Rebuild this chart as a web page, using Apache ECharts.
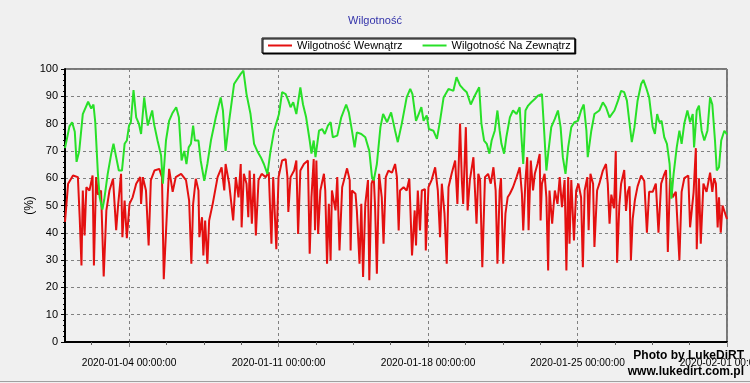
<!DOCTYPE html>
<html>
<head>
<meta charset="utf-8">
<script src="https://cdn.jsdelivr.net/npm/echarts@6/dist/echarts.min.js"></script>
<style>
html,body{margin:0;padding:0;background:#f0f0f0;}
#chart{width:750px;height:383px;}
</style>
</head>
<body>
<div id="chart"></div>
<script>
// hours since 2020-01-01 00:00
const outdoorHours = [0,5,8,11,13,16,20,26,29.5,32,34,37,39,42,44,48,52,54.5,57.5,60.5,64,67,69.5,72,74,77,80,83,85.5,89,93,98,100,104,108,110,113.5,117,121,125,128,131,134,136.5,139,141.5,144,146,150,152.5,156.5,160,164,169.5,175,177.5,180.5,184.5,190,197.5,200.5,204,208.5,212.5,216,220,223.5,227.5,231,235,240.5,244,248,251,253.5,256.5,260,264.5,267.5,271,275,277,279.5,281.5,285.5,289,292,295.5,298.5,301,306,310.5,316,319,322.5,325.5,328,333,337.5,342,345,347,350.5,354.5,357.5,362,366.5,371,374,378.5,384,388,390.5,394.5,397.5,400.5,403,406.5,409,414,418,421.5,425.5,431,436.5,440,444,447.5,451.5,456,460.5,465.5,468,471,474,477,479.5,483,486,488.5,490.5,493.5,496,500,503.5,507.5,511,513,515,517.5,520.5,524,528,531.5,536,538.5,541,543,546.5,550.5,554,557,559.5,562.5,565.5,569,572.5,576.5,580,583,586,587.5,591.5,595,600.5,604.5,608,612,617.5,621.5,625,628.5,631.5,634.5,637,640,643.5,647.5,650,653,656.5,660.5,663,665.5,668,670.5,673.5,676.5,679.5,681.5,684,687.5,690.5,693,696,699.5,702.5,705.5,707,710,712.5,715.5,718.5,722,725,727.5,730.5,732.5,735,737.5,741,744];
const outdoorValues = [71,79,80.5,77,66,70,83.5,88,85.5,87,80.5,61.6,53,48.5,52,61.6,69,72.6,67.7,62.8,62.8,72.6,73.8,79.3,80.5,92.3,82.3,80,76.2,89.6,79.3,84.8,80,73.8,68.3,58,73.8,81,84,86,82.3,66.5,70,65.2,71.3,72.6,79.3,73.8,73.8,66.5,59,65.2,73.8,82.3,89.6,84.8,70,81,94.5,98.2,99.4,90.8,83.5,72.6,70,67.7,65.2,61.6,70,77.4,83.5,91.5,90.8,88.4,86,87.8,83.5,93.3,87,82.3,73.8,69,73.8,67.7,77.4,78,76.2,79.3,80.5,75,75.6,82.3,87,84.1,77.4,71.3,76.8,76.2,75,70,60.4,59.2,65.2,78.7,83.5,80.5,84.1,77.4,73.2,80,89.6,92.7,90.8,81,83.5,86,81,83,78,77.4,74.4,81,89.6,92.7,92,97,94,92.7,91.5,87,90.2,93.3,80,73.8,72.6,69,73.8,77.4,84.8,77.4,72.6,69,75,82.3,84.8,83.5,86,75,65.2,84.8,86.6,87.8,89,90.2,90.8,77.4,62.8,69,78.7,81.7,84.8,78.7,67.7,61.6,71.3,78.7,80.5,81,84.8,87,77.4,67.7,77.4,83.5,84.8,87.8,86,82.3,84.8,88.4,92,91.5,88.4,80,73.2,78.7,88.4,94.5,96,93.3,89.6,78.7,76.2,83.5,80.5,81,75,72.6,65.2,52.5,61.6,71.3,77.4,72.6,80,84.8,80.5,83.5,71.3,84.8,86.6,77.4,73.8,77.4,89.6,87,73.8,62.8,64,73.8,77.4,76];

const indoorHours = [0,3.5,9,14.5,16.5,18.5,20,22,24,27.5,31,32.5,35,37,40.5,43.5,46.5,50,54,57.5,59.5,63,64.5,67,69.5,72.5,76,80,84.5,85.5,87.5,91,94,96.5,100.5,106,109,111,115.5,117,121,124.5,130.5,136,139.5,142,144,147,150,151,154,155.5,157.5,160,162,166,171.5,176,179,180.5,184.5,189,192,195,197.5,198.5,201,204,206,207.5,210,212.5,214.5,217.5,221,225.5,229,232,234,237.5,240,244,248,250,251,253.5,257.5,260,262,264.5,268.5,273,275,277,279.5,281,282.5,284.5,287,291,292.5,294.5,296.5,298.5,300,304,306,308.5,311.5,317,320,321,322.5,326.5,328,331,333,335,337.5,340.5,342,344.5,347,348.5,350.5,353,356,358,360.5,363.5,367.5,371,373,375,376.5,380.5,384,387,390,393,394.5,396.5,399,401,404.5,405.5,408.5,412,416,419,421.5,423.5,426.5,429,431,434.5,438.5,441,444,446,447.5,450.5,452.5,455,459,462.5,464.5,466.5,469,472,475.5,478.5,481.5,484,486,488.5,490,492.5,495,497.5,500,503.5,507.5,511,513.5,515,517.5,519.5,521,523.5,526,528,531,533.5,534.5,536,539,541,543,544.5,547.5,550.5,553.5,556,558.5,561.5,563.5,565.5,567,569,572,574.5,577,580,582,584,587,588.5,590.5,593.5,595,598,600.5,604.5,608,610,612,614,617,619,620.5,623,625,628.5,630.5,632.5,634.5,636,638,640.5,643.5,647.5,651,654,656.5,660.5,664,667,670,673,675.5,677.5,680,683,686.5,690.5,693,696,700.5,702.5,706.5,709,710,712.5,714.5,717.5,721,725,727.5,729.5,731.5,733.5,735,737,739,741,744];
const indoorValues = [44,58,61,60.4,45.7,28,55.5,39,56.7,55.5,61,28,60.4,54,55.5,24,48.2,55.5,59.8,41,49.4,61.6,38.4,51.8,38,50.6,53,58,60.4,50.6,60.4,55.5,35.4,59.3,62.8,63.4,60.4,23,54,63.4,55,60.4,61.6,59.3,51.8,28.7,50.6,59.8,55.5,38.4,45.7,31.7,44.5,28.7,44.5,50.6,60.4,64,55.5,65.2,58,44.5,60.4,53,65.2,42,61.6,58,45.7,62.8,43.3,61.6,39,59.3,61.6,60.4,62.2,36,60.4,34,60.4,66.5,67,60.4,47.6,60.4,62.8,66.5,39.6,62.8,65.2,66.5,32.3,53,67,40.9,66.5,39.6,55.5,61.6,55.5,28.7,50.6,30,55.5,48.2,60.4,33.5,56.7,63.6,59.3,33.5,55.5,54.3,48.2,28.7,50.6,23.8,50.6,59.3,22.6,58,60.4,49.4,25,61.6,53,36,60.4,62.8,62,65.2,60.4,40.9,55.5,56.7,55.5,59.8,31.7,48.2,35.4,55.5,40.9,55.5,56,33.5,56.7,59.3,64,55.5,38.4,58,47,28.7,56.7,61.6,66.5,50.6,80,59.3,50.6,78.7,48.2,59.3,67.7,43.3,61.6,59.3,27.4,60.4,61.6,58,64,55.5,28.7,55.5,60,28.7,47,53,54.3,56.7,60.4,64,54.3,40.9,59.3,67.7,40.9,66.5,55.5,61.6,65.2,68.9,44.5,58,61.6,53,26.2,55.5,43.3,55.5,50.6,60.4,49.4,59.3,26.2,60.4,36,59.3,37.2,55.5,58,53,27.4,55.5,60.4,40.9,61.6,58,34.8,55.5,58,62.8,65.2,58,43.3,54,49,70,29,50,58,63,48,55,57,30,45,52,57,61,59,40,55,55,58,40,58,61,63,33,60,53,55,30,55,60,61,42,55,71,34,60,36,58,55,62,55,60,58,42,53,40,50,48,45];

const majorTicks = [72, 240, 408, 576, 744];
const minorTicks = [30, 114, 156, 198, 282, 324, 366, 450, 492, 534, 618, 660, 702];
const yTicksInterval = 10;

const FONT = '"Liberation Sans", Arial, sans-serif';
function pad(n){return (n<10?'0':'')+n;}
function fmtHour(h){
  const d = new Date(Date.UTC(2020,0,1) + h*3600000);
  return d.getUTCFullYear()+'-'+pad(d.getUTCMonth()+1)+'-'+pad(d.getUTCDate())+' '+
    pad(d.getUTCHours())+':'+pad(d.getUTCMinutes())+':'+pad(d.getUTCSeconds());
}
function zip(a,b){return a.map((v,i)=>[v,b[i]]);}

const chart = echarts.init(document.getElementById('chart'), null, {renderer:'canvas'});
chart.setOption({
  animation:false,
  backgroundColor:'#f0f0f0',
  title:{
    text:'Wilgotność', left:'center', top:15, padding:0,
    textStyle:{fontSize:11, fontWeight:'normal', color:'#3333aa', fontFamily:FONT}
  },
  legend:{
    left:262, top:38, padding:[2,4,2,6], itemGap:20, itemWidth:24, itemHeight:2,
    icon:'rect', backgroundColor:'#ffffff', borderColor:'#000', borderWidth:1,
    shadowColor:'#000', shadowOffsetX:1, shadowOffsetY:1, shadowBlur:0,
    textStyle:{fontSize:11, color:'#000', fontFamily:FONT},
    data:['Wilgotność Wewnątrz','Wilgotność Na Zewnątrz']
  },
  grid:{
    left:65, right:23, top:69, bottom:41, containLabel:false, outerBoundsMode:'none',
    show:true, borderColor:'#000', borderWidth:1, backgroundColor:'#f0f0f0'
  },
  xAxis:[{
    type:'value', min:0, max:744,
    axisLine:{show:true, onZero:false, lineStyle:{color:'#000', width:2}},
    axisTick:{show:true, length:5, customValues:majorTicks, lineStyle:{color:'#808080'}},
    axisLabel:{customValues:majorTicks, formatter:fmtHour, fontSize:10.2, color:'#000', margin:16, fontFamily:FONT},
    splitLine:{show:true, lineStyle:{color:'#808080', type:[3,3], width:1}}
  },{
    type:'value', min:0, max:744, position:'bottom',
    axisLine:{show:false},
    axisTick:{show:true, length:3, customValues:minorTicks, lineStyle:{color:'#606060'}},
    axisLabel:{show:false, customValues:minorTicks},
    splitLine:{show:false}
  }],
  yAxis:{
    type:'value', min:0, max:100, interval:yTicksInterval,
    name:'(%)', nameLocation:'middle', nameRotate:90, nameGap:29, nameMoveOverlap:false,
    nameTextStyle:{fontSize:12, color:'#000', fontFamily:FONT},
    axisLine:{show:true, lineStyle:{color:'#000', width:2}},
    axisTick:{show:true, length:4, lineStyle:{color:'#000'}},
    minorTick:{show:true, splitNumber:5, length:2, lineStyle:{color:'#000'}},
    axisLabel:{fontSize:11, color:'#000', margin:7, fontFamily:FONT},
    splitLine:{show:true, lineStyle:{color:'#808080', type:[3,3], width:1}}
  },
  series:[{
    name:'Wilgotność Wewnątrz', type:'line', showSymbol:false, symbol:'none',
    data:zip(indoorHours, indoorValues),
    itemStyle:{color:'#e41010'}, lineStyle:{color:'#e41010', width:2}
  },{
    name:'Wilgotność Na Zewnątrz', type:'line', showSymbol:false, symbol:'none',
    data:zip(outdoorHours, outdoorValues),
    itemStyle:{color:'#28e028'}, lineStyle:{color:'#28e028', width:2}
  }],
  graphic:[
    {type:'text', right:6, top:350, z:100, style:{text:'Photo by LukeDiRT', font:'bold 12px '+FONT, fill:'#000'}},
    {type:'text', right:6, top:366, z:100, style:{text:'www.lukedirt.com.pl', font:'bold 12px '+FONT, fill:'#000'}},
    {type:'rect', left:0, top:381, z:100, shape:{width:750, height:1}, style:{fill:'#a0a0a0'}}
  ]
});
</script>
</body>
</html>
